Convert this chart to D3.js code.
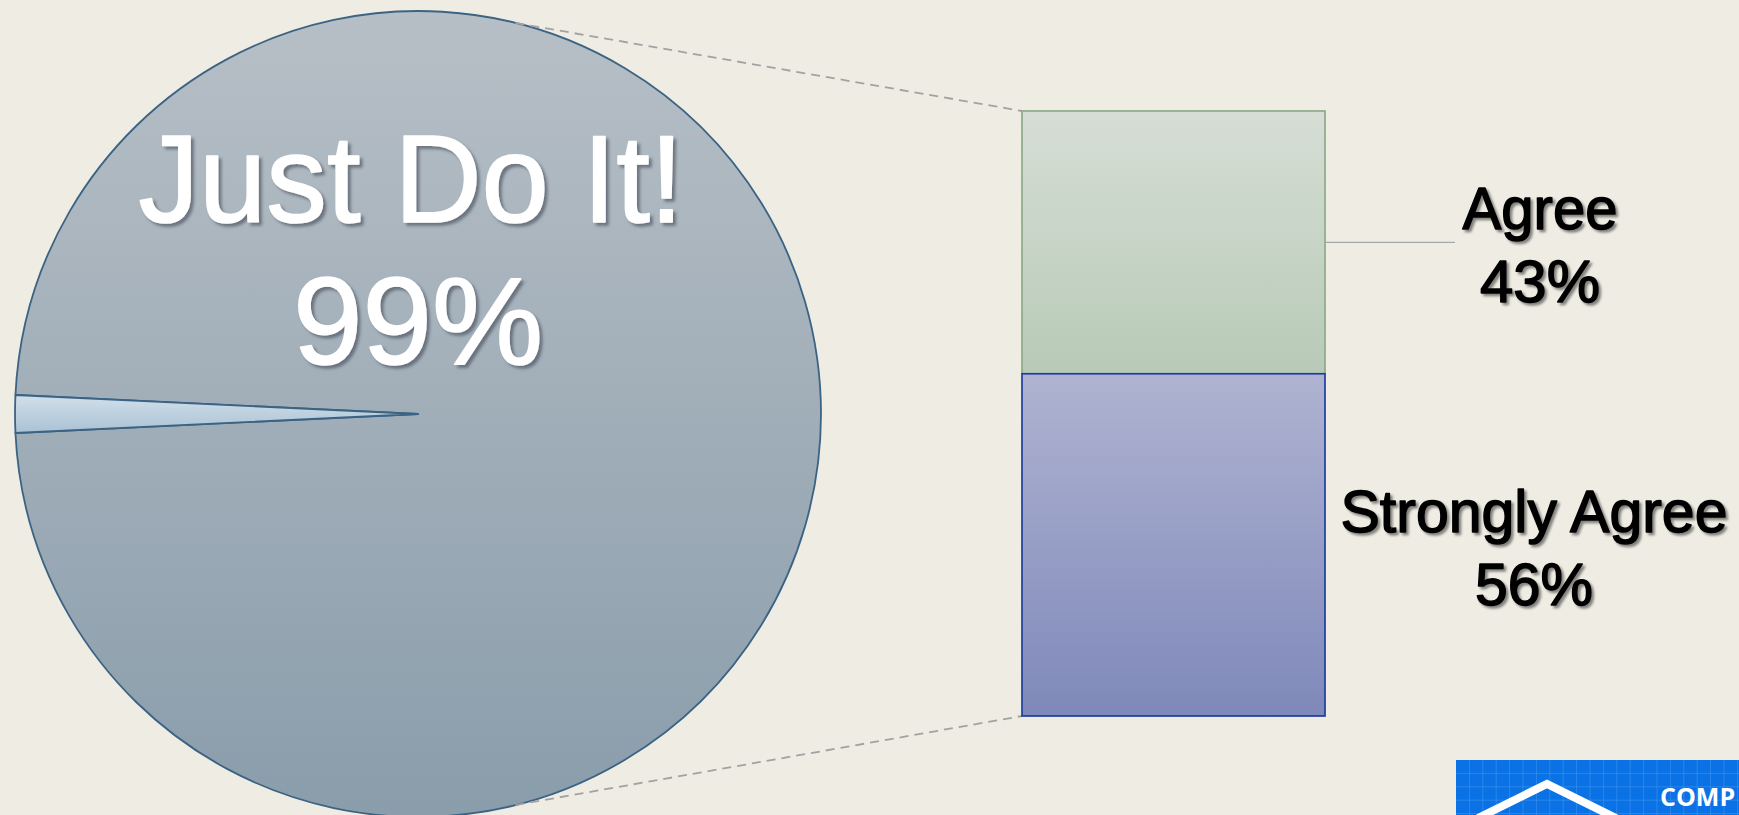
<!DOCTYPE html>
<html><head><meta charset="utf-8">
<script src="https://cdn.jsdelivr.net/npm/d3@7/dist/d3.min.js"></script>
<style>
html,body{margin:0;padding:0;background:#efece4;overflow:hidden;}
svg{display:block;}
</style></head>
<body>
<svg id="chart" width="1739" height="815"></svg>
<script>
// ---- data ----
const pieCategories = ["Just Do It!", "Other"];
const pieValues = [98.5, 1.5];
const pieLabelTitle = "Just Do It!";
const pieLabelValue = "99%";
const barCategories = ["Strongly Agree", "Agree"];
const barValues = [56, 43];
const barLabels = ["56%", "43%"];

const svg = d3.select("#chart");
const W = 1739, H = 815;
svg.append("rect").attr("width", W).attr("height", H).attr("fill", "#efece4");

const defs = svg.append("defs");
function vGrad(id, y1, y2, c1, c2) {
  const g = defs.append("linearGradient").attr("id", id)
    .attr("gradientUnits", "userSpaceOnUse").attr("x1", 0).attr("x2", 0).attr("y1", y1).attr("y2", y2);
  g.append("stop").attr("offset", 0).attr("stop-color", c1);
  g.append("stop").attr("offset", 1).attr("stop-color", c2);
}
const cx = 418, cy = 414, R = 403;
// gradients for pie are in the pie group's local coordinates
vGrad("pieBig", -R, R, "#b7bfc6", "#8a9dab");
vGrad("pieSmall", -20, 20, "#d3e0ea", "#a9c1d4");

const shW = defs.append("filter").attr("id", "shadowW").attr("x", "-10%").attr("y", "-10%").attr("width", "130%").attr("height", "130%");
shW.append("feDropShadow").attr("dx", 3).attr("dy", 3).attr("stdDeviation", 1.5).attr("flood-color", "#3f4a55").attr("flood-opacity", 0.6);
const shB = defs.append("filter").attr("id", "shadowB").attr("x", "-10%").attr("y", "-10%").attr("width", "130%").attr("height", "130%");
shB.append("feDropShadow").attr("dx", 2.5).attr("dy", 2.5).attr("stdDeviation", 1.2).attr("flood-color", "#000").attr("flood-opacity", 0.45);

// ---- pie ----
const total = d3.sum(pieValues);
const smallAngle = pieValues[1] / total * 2 * Math.PI;
const start = 1.5 * Math.PI + smallAngle / 2;
const pie = d3.pie().sort(null).startAngle(start).endAngle(start + 2 * Math.PI);
const arcs = pie(pieValues);
const arc = d3.arc().innerRadius(0).outerRadius(R);
const pg = svg.append("g").attr("transform", `translate(${cx},${cy})`);
pg.selectAll("path").data(arcs).join("path")
  .attr("d", arc)
  .attr("fill", (d, i) => i === 0 ? "url(#pieBig)" : "url(#pieSmall)")
  .attr("stroke", "#3b6383").attr("stroke-width", 1.8).attr("stroke-linejoin", "round");

// pie labels
const tg = svg.append("g").attr("filter", "url(#shadowW)")
  .attr("font-family", "'Liberation Sans', Arial, sans-serif").attr("fill", "#ffffff").attr("font-size", 125)
  .attr("stroke", "#ffffff").attr("stroke-width", 1.6).attr("stroke-linejoin", "round");
tg.append("text").attr("x", 411).attr("y", 222).attr("text-anchor", "middle")
  .attr("textLength", 545).attr("lengthAdjust", "spacingAndGlyphs").text(pieLabelTitle);
tg.append("text").attr("x", 418).attr("y", 364).attr("text-anchor", "middle")
  .text(pieLabelValue);

// ---- stacked bar ----
const barX = 1022, barW = 303;
const y = d3.scaleLinear().domain([0, d3.sum(barValues)]).range([716, 111]);
let acc = 0;
const segs = barValues.map((v, i) => { const s = { cat: barCategories[i], v, lab: barLabels[i], y0: acc, y1: acc + v }; acc += v; return s; });
vGrad("gSA", y(segs[0].y1), y(segs[0].y0), "#afb3d1", "#7f89ba");
vGrad("gA", y(segs[1].y1), y(segs[1].y0), "#d6ded5", "#b8cab7");
const fills = ["url(#gSA)", "url(#gA)"];
const strokes = ["#1e3f9c", "#8cab89"];

// connector dashed lines
const ang = 14 * Math.PI / 180;
const topPt = [cx + R * Math.sin(ang), cy - R * Math.cos(ang)];
const botPt = [cx + R * Math.sin(ang), cy + R * Math.cos(ang)];
svg.append("line").attr("x1", topPt[0]).attr("y1", topPt[1]).attr("x2", barX).attr("y2", y(acc))
  .attr("stroke", "#a2a2a2").attr("stroke-width", 1.8).attr("stroke-dasharray", "9,6");
svg.append("line").attr("x1", botPt[0]).attr("y1", botPt[1]).attr("x2", barX).attr("y2", y(0))
  .attr("stroke", "#a2a2a2").attr("stroke-width", 1.8).attr("stroke-dasharray", "9,6");

// draw Agree first so Strongly Agree's border is on top
svg.selectAll("rect.seg").data(segs.slice().reverse()).join("rect").attr("class", "seg")
  .attr("x", barX).attr("width", barW)
  .attr("y", d => y(d.y1)).attr("height", d => y(d.y0) - y(d.y1))
  .attr("fill", d => fills[barCategories.indexOf(d.cat)])
  .attr("stroke", d => strokes[barCategories.indexOf(d.cat)]).attr("stroke-width", 1.7);

// leader line for Agree
const mA = (y(segs[1].y0) + y(segs[1].y1)) / 2;
svg.append("line").attr("x1", barX + barW).attr("x2", 1455).attr("y1", mA).attr("y2", mA)
  .attr("stroke", "#a3aaa8").attr("stroke-width", 1.3);

// bar labels
const lg = svg.append("g").attr("filter", "url(#shadowB)")
  .attr("font-family", "'Liberation Sans', Arial, sans-serif").attr("fill", "#000").attr("font-size", 60)
  .attr("stroke", "#000").attr("stroke-width", 1.5).attr("stroke-linejoin", "round");
const labelCx = [1534, 1540];
const nameLen = [387, 155];
const valLen = [118, 120];
segs.forEach((s, i) => {
  const m = (y(s.y0) + y(s.y1)) / 2;
  lg.append("text").attr("x", labelCx[i]).attr("y", m - 13).attr("text-anchor", "middle")
    .attr("textLength", nameLen[i]).attr("lengthAdjust", "spacingAndGlyphs").text(s.cat);
  lg.append("text").attr("x", labelCx[i]).attr("y", m + 60).attr("text-anchor", "middle")
    .attr("textLength", valLen[i]).attr("lengthAdjust", "spacingAndGlyphs").text(s.lab);
});

// ---- logo (bottom right, clipped) ----
const logo = svg.append("g");
logo.append("rect").attr("x", 1456).attr("y", 760).attr("width", W - 1456).attr("height", H - 760).attr("fill", "#0a72e4");
for (let gx = 1456 + 13.4; gx < W; gx += 13.4) {
  logo.append("line").attr("x1", gx).attr("x2", gx).attr("y1", 760).attr("y2", H)
    .attr("stroke", "#3d92f0").attr("stroke-width", 0.8).attr("opacity", 0.8);
}
for (let gy = 760 + 13.4; gy < H; gy += 13.4) {
  logo.append("line").attr("x1", 1456).attr("x2", W).attr("y1", gy).attr("y2", gy)
    .attr("stroke", "#3d92f0").attr("stroke-width", 0.8).attr("opacity", 0.8);
}
logo.append("path").attr("d", "M1478,818 L1547,784 L1616,818")
  .attr("fill", "none").attr("stroke", "#fff").attr("stroke-width", 8).attr("stroke-linejoin", "miter");
logo.append("text").attr("x", 1660).attr("y", 806).attr("font-family", "'Open Sans', 'Noto Sans', sans-serif")
  .attr("font-weight", "bold").attr("font-size", 25).attr("fill", "#fff").text("COMP");
</script>
</body></html>
